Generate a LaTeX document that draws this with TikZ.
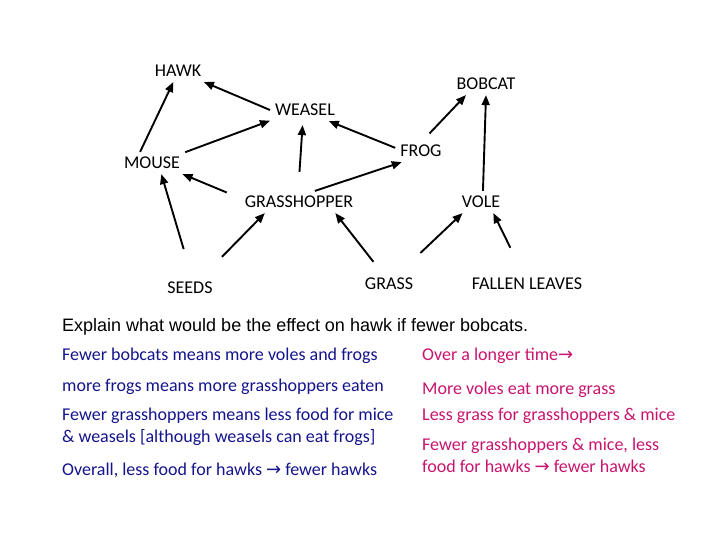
\documentclass[tikz,border=0pt]{standalone}
\usepackage{fontspec}
\setmainfont{Carlito}
\newfontfamily\arialfont{Liberation Sans}
\newfontfamily\symfont{DejaVu Sans}
\definecolor{webblue}{RGB}{20, 20, 140}
\definecolor{webpink}{RGB}{200, 20, 110}
\usetikzlibrary{arrows.meta}
\newcommand{\rarr}{{\symfont\char"2192}}

\begin{document}
\begin{tikzpicture}[x=1pt, y=-1pt,
    animal/.style={inner sep=5pt, font=\fontsize{18}{21}\selectfont},
    feeds/.style={-{Triangle[length=10pt,width=8pt]}, line width=1.9pt},
    note/.style={anchor=west, inner sep=0pt, align=left, font=\fontsize{18}{22}\selectfont}]
    \useasboundingbox (0,0) rectangle (720,540);

    % Top of the web
    \node[animal] (hawk) at (178,71) {HAWK};
    \node[animal] (bobcat) at (486,84) {BOBCAT};
    \node[animal] (weasel) at (305,110) {WEASEL};

    % Middle
    \node[animal] (frog) at (421,151) {FROG};
    \node[animal] (mouse) at (152,163) {MOUSE};
    \node[animal] (hopper) at (299,202) {GRASSHOPPER};
    \node[animal] (vole) at (481,202) {VOLE};

    % Producers
    \node[animal] (seeds) at (190,288) {SEEDS};
    \node[animal] (grass) at (389,284) {GRASS};
    \node[animal] (leaves) at (527,284) {FALLEN LEAVES};

    % Arrows
    \draw[feeds] (mouse.137) -- (hawk.247);
    \draw[feeds] (weasel.west) -- (hawk.337);
    \draw[feeds] (mouse.18) -- (weasel.197);
    \draw[feeds, shorten <=19pt, shorten >=4pt] (hopper.94) -- (weasel.259);
    \draw[feeds] (frog.173) -- (weasel.335);
    \draw[feeds, shorten <=9pt] (frog.78) -- (bobcat.209);
    \draw[feeds] (vole.80) -- (bobcat.south);
    \draw[feeds] (hopper.35) -- (frog.210);
    \draw[feeds, shorten <=14pt] (hopper.176) -- (mouse.340);
    \draw[feeds, shorten <=29pt] (seeds.80) -- (mouse.310);
    \draw[feeds, shorten <=28pt] (seeds.42) -- (hopper.198);
    \draw[feeds, shorten <=14pt] (grass.122) -- (hopper.343);
    \draw[feeds, shorten <=29pt] (grass.47) -- (vole.211);
    \draw[feeds, shorten <=28pt] (leaves.111) -- (vole.318);

    % Question
    \node[note, font=\arialfont\fontsize{18}{21}\selectfont] (question) at (62,327)
        {Explain what would be the effect on hawk if fewer bobcats.};

    % Answer, left column
    \node[note, text=webblue] (ansa) at (62,356) {Fewer bobcats means more voles and frogs};
    \node[note, text=webblue] (ansb) at (62,387) {more frogs means more grasshoppers eaten};
    \node[note, text=webblue] (ansc) at (62,427) {Fewer grasshoppers means less food for mice\\\& weasels [although weasels can eat frogs]};
    \node[note, text=webblue] (ansd) at (62,470) {Overall, less food for hawks \rarr{} fewer hawks};

    % Answer, right column
    \node[note, text=webpink] (longa) at (422,356) {Over a longer time\rarr};
    \node[note, text=webpink] (longb) at (422,390) {More voles eat more grass};
    \node[note, text=webpink] (longc) at (422,416) {Less grass for grasshoppers \& mice};
    \node[note, text=webpink] (longd) at (422,455) {Fewer grasshoppers \& mice, less\\food for hawks \rarr{} fewer hawks};
\end{tikzpicture}
\end{document}
